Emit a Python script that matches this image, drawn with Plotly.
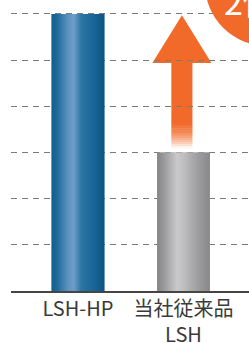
import plotly.graph_objects as go

# ---- data ----
categories = ["LSH-HP", "当社従来品<br>LSH"]
values = [2.0, 1.0]
grid_vals = [1/3, 2/3, 1.0, 4/3, 5/3, 2.0]
badge_text = "2倍"

# ---- style ----
W, H = 249, 343
ML, MR, MT, MB = 11, 0, 0, 52
x_pos = [0, 1]
bar_w = 0.5
ymax = 2.101
orange = "#f26a2a"

blue_scale = [[0, "#125d8d"], [0.1, "#1c6999"], [0.3, "#5a90be"], [0.42, "#6e9ec9"],
              [0.56, "#2c75a5"], [0.8, "#186595"], [1, "#0d5485"]]
gray_scale = [[0, "#858587"], [0.12, "#98989a"], [0.38, "#cacacc"], [0.5, "#bfbfc1"],
              [0.75, "#a0a0a2"], [1, "#88888a"]]
scales = [blue_scale, gray_scale]
base_cols = ["#1f6b9b", "#a8a8aa"]

fig = go.Figure()
fig.add_trace(go.Bar(x=x_pos, y=values, width=bar_w, marker=dict(color=base_cols, line=dict(width=0)),
                     hoverinfo="skip", showlegend=False))
for xp, v, sc in zip(x_pos, values, scales):
    x0, x1 = xp - bar_w / 2, xp + bar_w / 2
    fig.add_trace(go.Scatter(x=[x0, x1, x1, x0, x0], y=[0, 0, v, v, 0], mode="lines",
                             line=dict(width=0), fill="toself",
                             fillgradient=dict(type="horizontal", colorscale=sc),
                             hoverinfo="skip", showlegend=False))

# ---- arrow from the lower bar's value up to the higher bar's value ----
ax = x_pos[1] - 0.015
tip = values[0] - 0.01
head_base = values[1] + 0.646 * (values[0] - values[1])
head_hw = 0.28
shaft_hw = 0.1
fade_top = values[1] + 0.22 * (values[0] - values[1])
shaft_bot = values[1] + 0.03
shapes = []
shapes.append(dict(type="path", xref="x", yref="y", layer="below",
                   path=f"M {ax} {tip} L {ax+head_hw} {head_base} L {ax+shaft_hw} {head_base} "
                        f"L {ax+shaft_hw} {fade_top} L {ax-shaft_hw} {fade_top} L {ax-shaft_hw} {head_base} "
                        f"L {ax-head_hw} {head_base} Z",
                   fillcolor=orange, line=dict(width=0)))
n = 12
for i in range(n):
    y1 = fade_top - (fade_top - shaft_bot) * i / n
    y0 = fade_top - (fade_top - shaft_bot) * (i + 1) / n
    t = (i + 0.5) / n
    op = max(0.0, 1 - t ** 1.6)
    shapes.append(dict(type="rect", xref="x", yref="y", layer="below",
                       x0=ax - shaft_hw, x1=ax + shaft_hw, y0=y0, y1=y1 + 0.002,
                       fillcolor=orange, opacity=op, line=dict(width=0)))

# ---- badge circle (top right) ----
pw = W - ML - MR
ph = H - MT - MB
cx, cy, r = 267, -16, 62
shapes.append(dict(type="circle", xref="paper", yref="paper", layer="above",
                   x0=(cx - r - ML) / pw, x1=(cx + r - ML) / pw,
                   y0=(ph - (cy + r)) / ph, y1=(ph - (cy - r)) / ph,
                   fillcolor=orange, line=dict(width=0)))

fig.update_layout(
    width=W, height=H,
    margin=dict(l=ML, r=MR, t=MT, b=MB, pad=0, autoexpand=False),
    paper_bgcolor="white", plot_bgcolor="white",
    barmode="overlay",
    shapes=shapes,
    showlegend=False,
    xaxis=dict(range=[-0.635, 1.621], tickmode="array", tickvals=x_pos, ticktext=categories,
               showgrid=False, zeroline=False, showline=True, linecolor="#454545", linewidth=1.6,
               ticks="", automargin=False, ticklabelstandoff=-1,
               tickfont=dict(family="Noto Sans CJK JP", size=20, color="#3a3a3a"),
               fixedrange=True),
    yaxis=dict(range=[0, ymax], tickmode="array", tickvals=grid_vals, showticklabels=False,
               showgrid=True, gridcolor="#7a7a7a", gridwidth=1.3, griddash="6px,5px",
               zeroline=False, showline=False, fixedrange=True, automargin=False),
    annotations=[dict(text=badge_text, xref="paper", yref="paper", x=(222 - ML) / pw,
                      y=1.0, xanchor="left", yanchor="middle", showarrow=False,
                      font=dict(family="Noto Sans CJK JP", size=34, color="white"))],
)

fig.write_html("out.html", config={"displayModeBar": False},
               post_script="document.body.style.margin='0';document.body.style.overflow='hidden';")
